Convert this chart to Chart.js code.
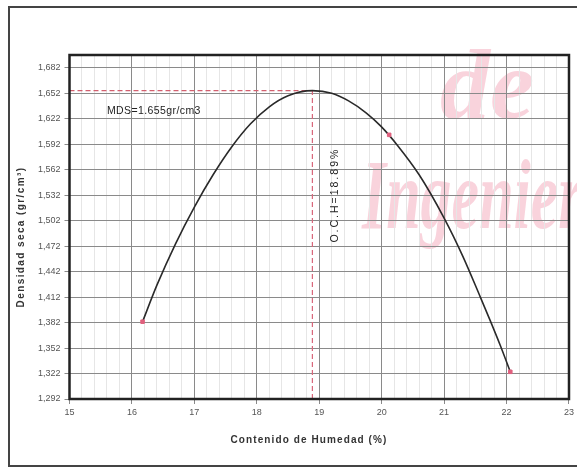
<!DOCTYPE html>
<html>
<head>
<meta charset="utf-8">
<script src="https://cdn.jsdelivr.net/npm/chart.js@4/dist/chart.umd.min.js"></script>
<style>
  html, body { margin: 0; padding: 0; background: #fff; }
  #wrap { width: 577px; height: 468px; }
</style>
</head>
<body>
<div id="wrap"><canvas id="c" width="577" height="468"></canvas></div>
<script>
// Compaction curve: moisture content (%) vs dry density (gr/cm3)
const curveMoisture = [16.17, 16.40, 16.70, 17.00, 17.30, 17.60, 17.90, 18.20, 18.50, 18.89,
                       19.20, 19.47, 19.75, 19.99, 20.26, 20.60, 21.00, 21.30, 21.58, 21.74, 21.90, 22.06];
const curveDensity  = [1.383, 1.426, 1.475, 1.518, 1.556, 1.589, 1.616, 1.636, 1.649, 1.655,
                       1.652, 1.643, 1.629, 1.613, 1.590, 1.556, 1.505, 1.460, 1.412, 1.384, 1.355, 1.324];

// Test specimens
const testMoisture = [16.17, 20.12, 22.06];
const testDensity  = [1.383, 1.603, 1.324];

// Results
const mds = 1.655;   // maximum dry density
const och = 18.89;   // optimum moisture content

// Axis ticks
const xTicks = [15, 16, 17, 18, 19, 20, 21, 22, 23];
const yTicks = [1.292, 1.322, 1.352, 1.382, 1.412, 1.442, 1.472, 1.502, 1.532, 1.562, 1.592, 1.622, 1.652, 1.682];
const yMin = 1.292, yMax = 1.697;

const FONT = 'Arial, "Liberation Sans", sans-serif';

// x ticks every 0.2 for the fine grid; labels only on whole numbers
const xMinor = [];
for (let i = 0; i < xTicks.length - 1; i++) {
  for (let k = 0; k < 5; k++) xMinor.push(+(xTicks[i] + k * 0.2).toFixed(1));
}
xMinor.push(xTicks[xTicks.length - 1]);
const isWhole = v => Math.abs(v - Math.round(v)) < 1e-6;

const decor = {
  id: 'decor',
  beforeDraw(chart) {
    const ctx = chart.ctx;
    ctx.save();
    ctx.fillStyle = '#fff';
    ctx.fillRect(0, 0, chart.width, chart.height);
    // faint watermark lettering
    ctx.fillStyle = 'rgba(236, 120, 150, 0.33)';
    ctx.font = 'italic bold 100px "Liberation Serif", "DejaVu Serif", serif';
    ctx.textBaseline = 'alphabetic';
    ctx.save();
    ctx.translate(440, 118);
    ctx.fillText('de', 0, 0);
    ctx.restore();
    ctx.save();
    ctx.translate(362, 228);
    ctx.scale(0.62, 1.0);
    ctx.fillText('Ingenier', 0, 0);
    ctx.restore();
    ctx.restore();
  },
  afterDraw(chart) {
    const ctx = chart.ctx;
    const a = chart.chartArea;
    const xs = chart.scales.x, ys = chart.scales.y;
    ctx.save();
    // plot frame
    ctx.strokeStyle = '#222';
    ctx.lineWidth = 2.5;
    ctx.strokeRect(a.left, a.top, a.right - a.left, a.bottom - a.top);
    // outer frame
    ctx.strokeStyle = '#444';
    ctx.lineWidth = 2;
    ctx.strokeRect(9, 7, 620, 459);

    // axis titles
    ctx.fillStyle = '#333';
    ctx.font = 'bold 10px ' + FONT;
    ctx.textAlign = 'center';
    ctx.textBaseline = 'middle';
    ctx.letterSpacing = '1.1px';
    ctx.fillText('Contenido de Humedad (%)', 309, 440);
    ctx.save();
    ctx.translate(21.5, 237);
    ctx.rotate(-Math.PI / 2);
    ctx.letterSpacing = '1.4px';
    ctx.fillText('Densidad seca (gr/cm\u00B3)', 0, 0);
    ctx.restore();

    // result labels
    ctx.fillStyle = '#222';
    ctx.font = '10.5px ' + FONT;
    ctx.textAlign = 'left';
    ctx.letterSpacing = '0.4px';
    ctx.fillText('MDS=' + mds.toFixed(3) + 'gr/cm3', xs.getPixelForValue(15.6), ys.getPixelForValue(1.6313));
    ctx.save();
    ctx.translate(xs.getPixelForValue(19.26), ys.getPixelForValue(1.532));
    ctx.rotate(-Math.PI / 2);
    ctx.textAlign = 'center';
    ctx.letterSpacing = '2px';
    ctx.fillText('O.C.H=' + och.toFixed(2) + '%', 0, 0);
    ctx.restore();
    ctx.restore();
  }
};

new Chart(document.getElementById('c'), {
  type: 'scatter',
  data: {
    datasets: [
      {
        label: 'MDS',
        data: [{ x: 15, y: mds }, { x: och, y: mds }],
        showLine: true, borderColor: '#d2606f', borderWidth: 1.2, borderDash: [5, 3],
        pointRadius: 0, fill: false, order: 3
      },
      {
        label: 'OCH',
        data: [{ x: och, y: yMin }, { x: och, y: mds }],
        showLine: true, borderColor: '#d9687c', borderWidth: 1.2, borderDash: [5, 3],
        pointRadius: 0, fill: false, order: 3
      },
      {
        label: 'Curva',
        data: curveMoisture.map((x, i) => ({ x, y: curveDensity[i] })),
        showLine: true, borderColor: '#2a2a2a', borderWidth: 1.6,
        pointRadius: 0, cubicInterpolationMode: 'monotone', fill: false, order: 2
      },
      {
        label: 'Ensayos',
        data: testMoisture.map((x, i) => ({ x, y: testDensity[i] })),
        showLine: false, pointRadius: 2.5, pointStyle: 'rect',
        backgroundColor: '#e0607e', borderColor: '#e0607e', order: 1
      }
    ]
  },
  options: {
    responsive: false,
    animation: false,
    events: [],
    layout: { padding: { left: 0, right: 5, top: 55, bottom: 0 } },
    plugins: { legend: { display: false }, tooltip: { enabled: false } },
    scales: {
      x: {
        type: 'linear', min: 15, max: 23,
        afterBuildTicks: s => { s.ticks = xMinor.map(v => ({ value: v })); },
        afterFit: s => { s.height = 69; },
        border: { display: false },
        grid: {
          color: c => (c.tick && isWhole(c.tick.value)) ? '#8a8a8a' : '#e6e6e6',
          tickColor: c => (c.tick && isWhole(c.tick.value)) ? '#8a8a8a' : 'rgba(0,0,0,0)',
          tickLength: 5, lineWidth: 1
        },
        ticks: {
          autoSkip: false, maxRotation: 0, padding: 3,
          color: '#555', font: { family: FONT, size: 9 },
          callback: v => isWhole(v) ? String(Math.round(v)) : ''
        }
      },
      y: {
        type: 'linear', min: yMin, max: yMax,
        afterBuildTicks: s => { s.ticks = yTicks.map(v => ({ value: v })); },
        afterFit: s => { s.width = 69.5; },
        border: { display: false },
        grid: { color: '#8a8a8a', tickColor: '#8a8a8a', tickLength: 5, lineWidth: 1 },
        ticks: {
          padding: 4, color: '#555', font: { family: FONT, size: 9 },
          callback: v => v.toFixed(3).replace('.', ',')
        }
      }
    }
  },
  plugins: [decor]
});
</script>
</body>
</html>
